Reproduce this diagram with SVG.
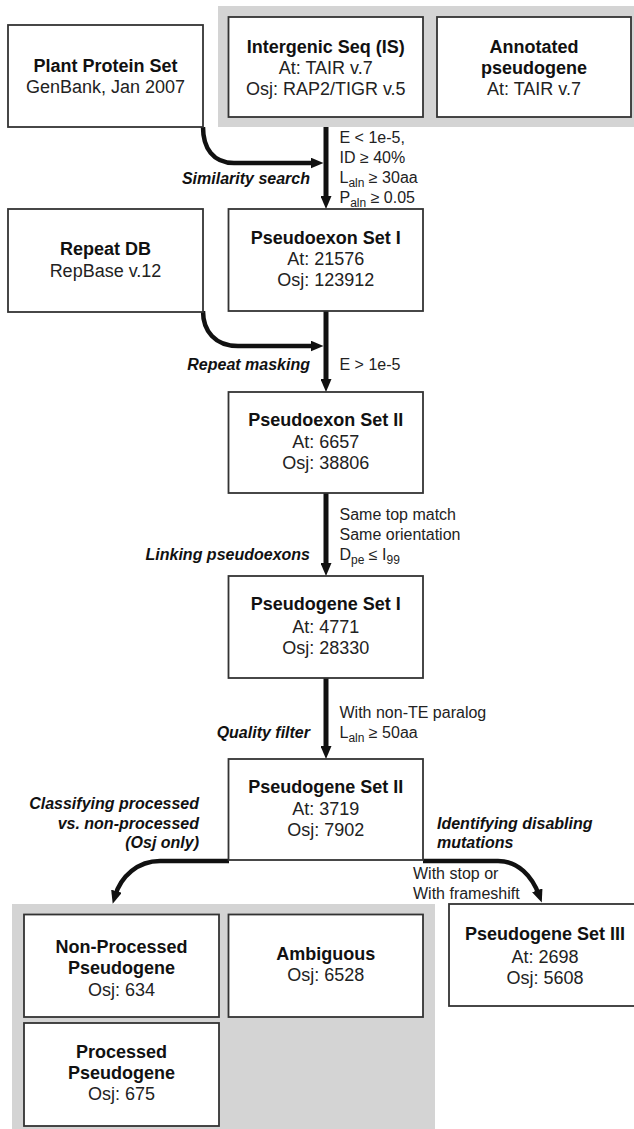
<svg xmlns="http://www.w3.org/2000/svg" width="634" height="1129" viewBox="0 0 634 1129">
<style>
.box{fill:#fff;stroke:#333;stroke-width:1.8}
.band{fill:#d4d4d4}
.t{font-family:"Liberation Sans",Arial,sans-serif;font-size:18px;fill:#222;text-anchor:middle}
.b{font-weight:bold;fill:#111}
.lab{font-family:"Liberation Sans",Arial,sans-serif;font-size:16px;font-weight:bold;font-style:italic;fill:#111;text-anchor:end}
.labl{text-anchor:start}
.cond{font-family:"Liberation Sans",Arial,sans-serif;font-size:16px;fill:#222}
.conn{fill:none;stroke:#111;stroke-width:5;marker-end:url(#ah)}
.curve{stroke-width:4.5}
</style>
<defs>
<marker id="ah" viewBox="0 0 13 11" markerWidth="13" markerHeight="11" markerUnits="userSpaceOnUse" refX="5" refY="5.5" orient="auto">
<path d="M0,0 L13,5.5 L0,11 z" fill="#111"/>
</marker>
</defs>
<rect width="634" height="1129" fill="#fff"/>
<g id="bands">
<rect class="band" x="218" y="6" width="416" height="121"/>
<rect class="band" x="12" y="904" width="423" height="225"/>
</g>
<g id="connectors">
<path class="conn" d="M326,127 V201"/>
<path class="conn" d="M326,311 V384"/>
<path class="conn" d="M326,493 V568"/>
<path class="conn" d="M326,678 V751"/>
<path class="conn curve" d="M203,127 C203,148 213,163 234,163 H315.5"/>
<path class="conn curve" d="M203,311 C203,331 215,346 238,346 H315.5"/>
<path class="conn curve" d="M229,861 H160 C138,861 121,876 115,896"/>
<path class="conn curve" d="M423,861 H498 C518,861 532,876 539,895"/>
</g>
<g id="plant-protein-set">
<rect class="box" x="8" y="25" width="195" height="102"/>
<text class="t b" x="105.5" y="72">Plant Protein Set</text>
<text class="t" x="105.5" y="93">GenBank, Jan 2007</text>
</g>
<g id="intergenic-seq">
<rect class="box" x="228.5" y="17" width="194.5" height="100"/>
<text class="t b" x="325.75" y="53">Intergenic Seq (IS)</text>
<text class="t" x="325.75" y="74">At: TAIR v.7</text>
<text class="t" x="325.75" y="95">Osj: RAP2/TIGR v.5</text>
</g>
<g id="annotated-pseudogene">
<rect class="box" x="437" y="17" width="194" height="100"/>
<text class="t b" x="534" y="53">Annotated</text>
<text class="t b" x="534" y="74">pseudogene</text>
<text class="t" x="534" y="95">At: TAIR v.7</text>
</g>
<g id="repeat-db">
<rect class="box" x="8" y="209" width="195" height="103"/>
<text class="t b" x="105.5" y="255">Repeat DB</text>
<text class="t" x="105.5" y="277">RepBase v.12</text>
</g>
<g id="pseudoexon-set-1">
<rect class="box" x="228.5" y="209" width="194.5" height="102"/>
<text class="t b" x="325.75" y="243.5">Pseudoexon Set I</text>
<text class="t" x="325.75" y="264.5">At: 21576</text>
<text class="t" x="325.75" y="285.5">Osj: 123912</text>
</g>
<g id="pseudoexon-set-2">
<rect class="box" x="228.5" y="392" width="194.5" height="101"/>
<text class="t b" x="325.75" y="426">Pseudoexon Set II</text>
<text class="t" x="325.75" y="448">At: 6657</text>
<text class="t" x="325.75" y="469">Osj: 38806</text>
</g>
<g id="pseudogene-set-1">
<rect class="box" x="228.5" y="576" width="194.5" height="102"/>
<text class="t b" x="325.75" y="609.5">Pseudogene Set I</text>
<text class="t" x="325.75" y="632.5">At: 4771</text>
<text class="t" x="325.75" y="653.5">Osj: 28330</text>
</g>
<g id="pseudogene-set-2">
<rect class="box" x="228.5" y="759" width="194.5" height="101"/>
<text class="t b" x="325.75" y="792.5">Pseudogene Set II</text>
<text class="t" x="325.75" y="814.5">At: 3719</text>
<text class="t" x="325.75" y="835.5">Osj: 7902</text>
</g>
<g id="pseudogene-set-3">
<rect class="box" x="449" y="904" width="194" height="102"/>
<text class="t b" x="545" y="939.5">Pseudogene Set III</text>
<text class="t" x="545" y="962.5">At: 2698</text>
<text class="t" x="545" y="983.5">Osj: 5608</text>
</g>
<g id="non-processed">
<rect class="box" x="24" y="914.5" width="195" height="102.5"/>
<text class="t b" x="121.5" y="952.5">Non-Processed</text>
<text class="t b" x="121.5" y="973.5">Pseudogene</text>
<text class="t" x="121.5" y="995.5">Osj: 634</text>
</g>
<g id="ambiguous">
<rect class="box" x="228.5" y="914.5" width="194.5" height="102.5"/>
<text class="t b" x="325.75" y="959.5">Ambiguous</text>
<text class="t" x="325.75" y="980.5">Osj: 6528</text>
</g>
<g id="processed">
<rect class="box" x="24" y="1023" width="195" height="103"/>
<text class="t b" x="121.5" y="1057.5">Processed</text>
<text class="t b" x="121.5" y="1078.5">Pseudogene</text>
<text class="t" x="121.5" y="1099.5">Osj: 675</text>
</g>
<g id="labels">
<text class="lab" x="310" y="184">Similarity search</text>
<text class="lab" x="310" y="369.5">Repeat masking</text>
<text class="lab" x="310" y="560">Linking pseudoexons</text>
<text class="lab" x="310" y="738">Quality filter</text>
<text class="lab" x="199" y="809">Classifying processed</text>
<text class="lab" x="199" y="829">vs. non-processed</text>
<text class="lab" x="199" y="848">(Osj only)</text>
<text class="lab labl" x="437" y="829">Identifying disabling</text>
<text class="lab labl" x="437" y="848">mutations</text>
<text class="cond" x="339.5" y="143">E &lt; 1e-5,</text>
<text class="cond" x="339.5" y="163">ID ≥ 40%</text>
<text class="cond" x="339.5" y="183">L<tspan font-size="12" dy="4">aln</tspan><tspan dy="-4"> ≥ 30aa</tspan></text>
<text class="cond" x="339.5" y="203">P<tspan font-size="12" dy="4">aln</tspan><tspan dy="-4"> ≥ 0.05</tspan></text>
<text class="cond" x="339.5" y="369.5">E &gt; 1e-5</text>
<text class="cond" x="339.5" y="520">Same top match</text>
<text class="cond" x="339.5" y="540">Same orientation</text>
<text class="cond" x="339.5" y="560">D<tspan font-size="12" dy="4">pe</tspan><tspan dy="-4"> ≤ I</tspan><tspan font-size="12" dy="4">99</tspan></text>
<text class="cond" x="339.5" y="717.5">With non-TE paralog</text>
<text class="cond" x="339.5" y="738">L<tspan font-size="12" dy="4">aln</tspan><tspan dy="-4"> ≥ 50aa</tspan></text>
<text class="cond" x="413" y="878.5">With stop or</text>
<text class="cond" x="413" y="898.5">With frameshift</text>
</g>
</svg>
